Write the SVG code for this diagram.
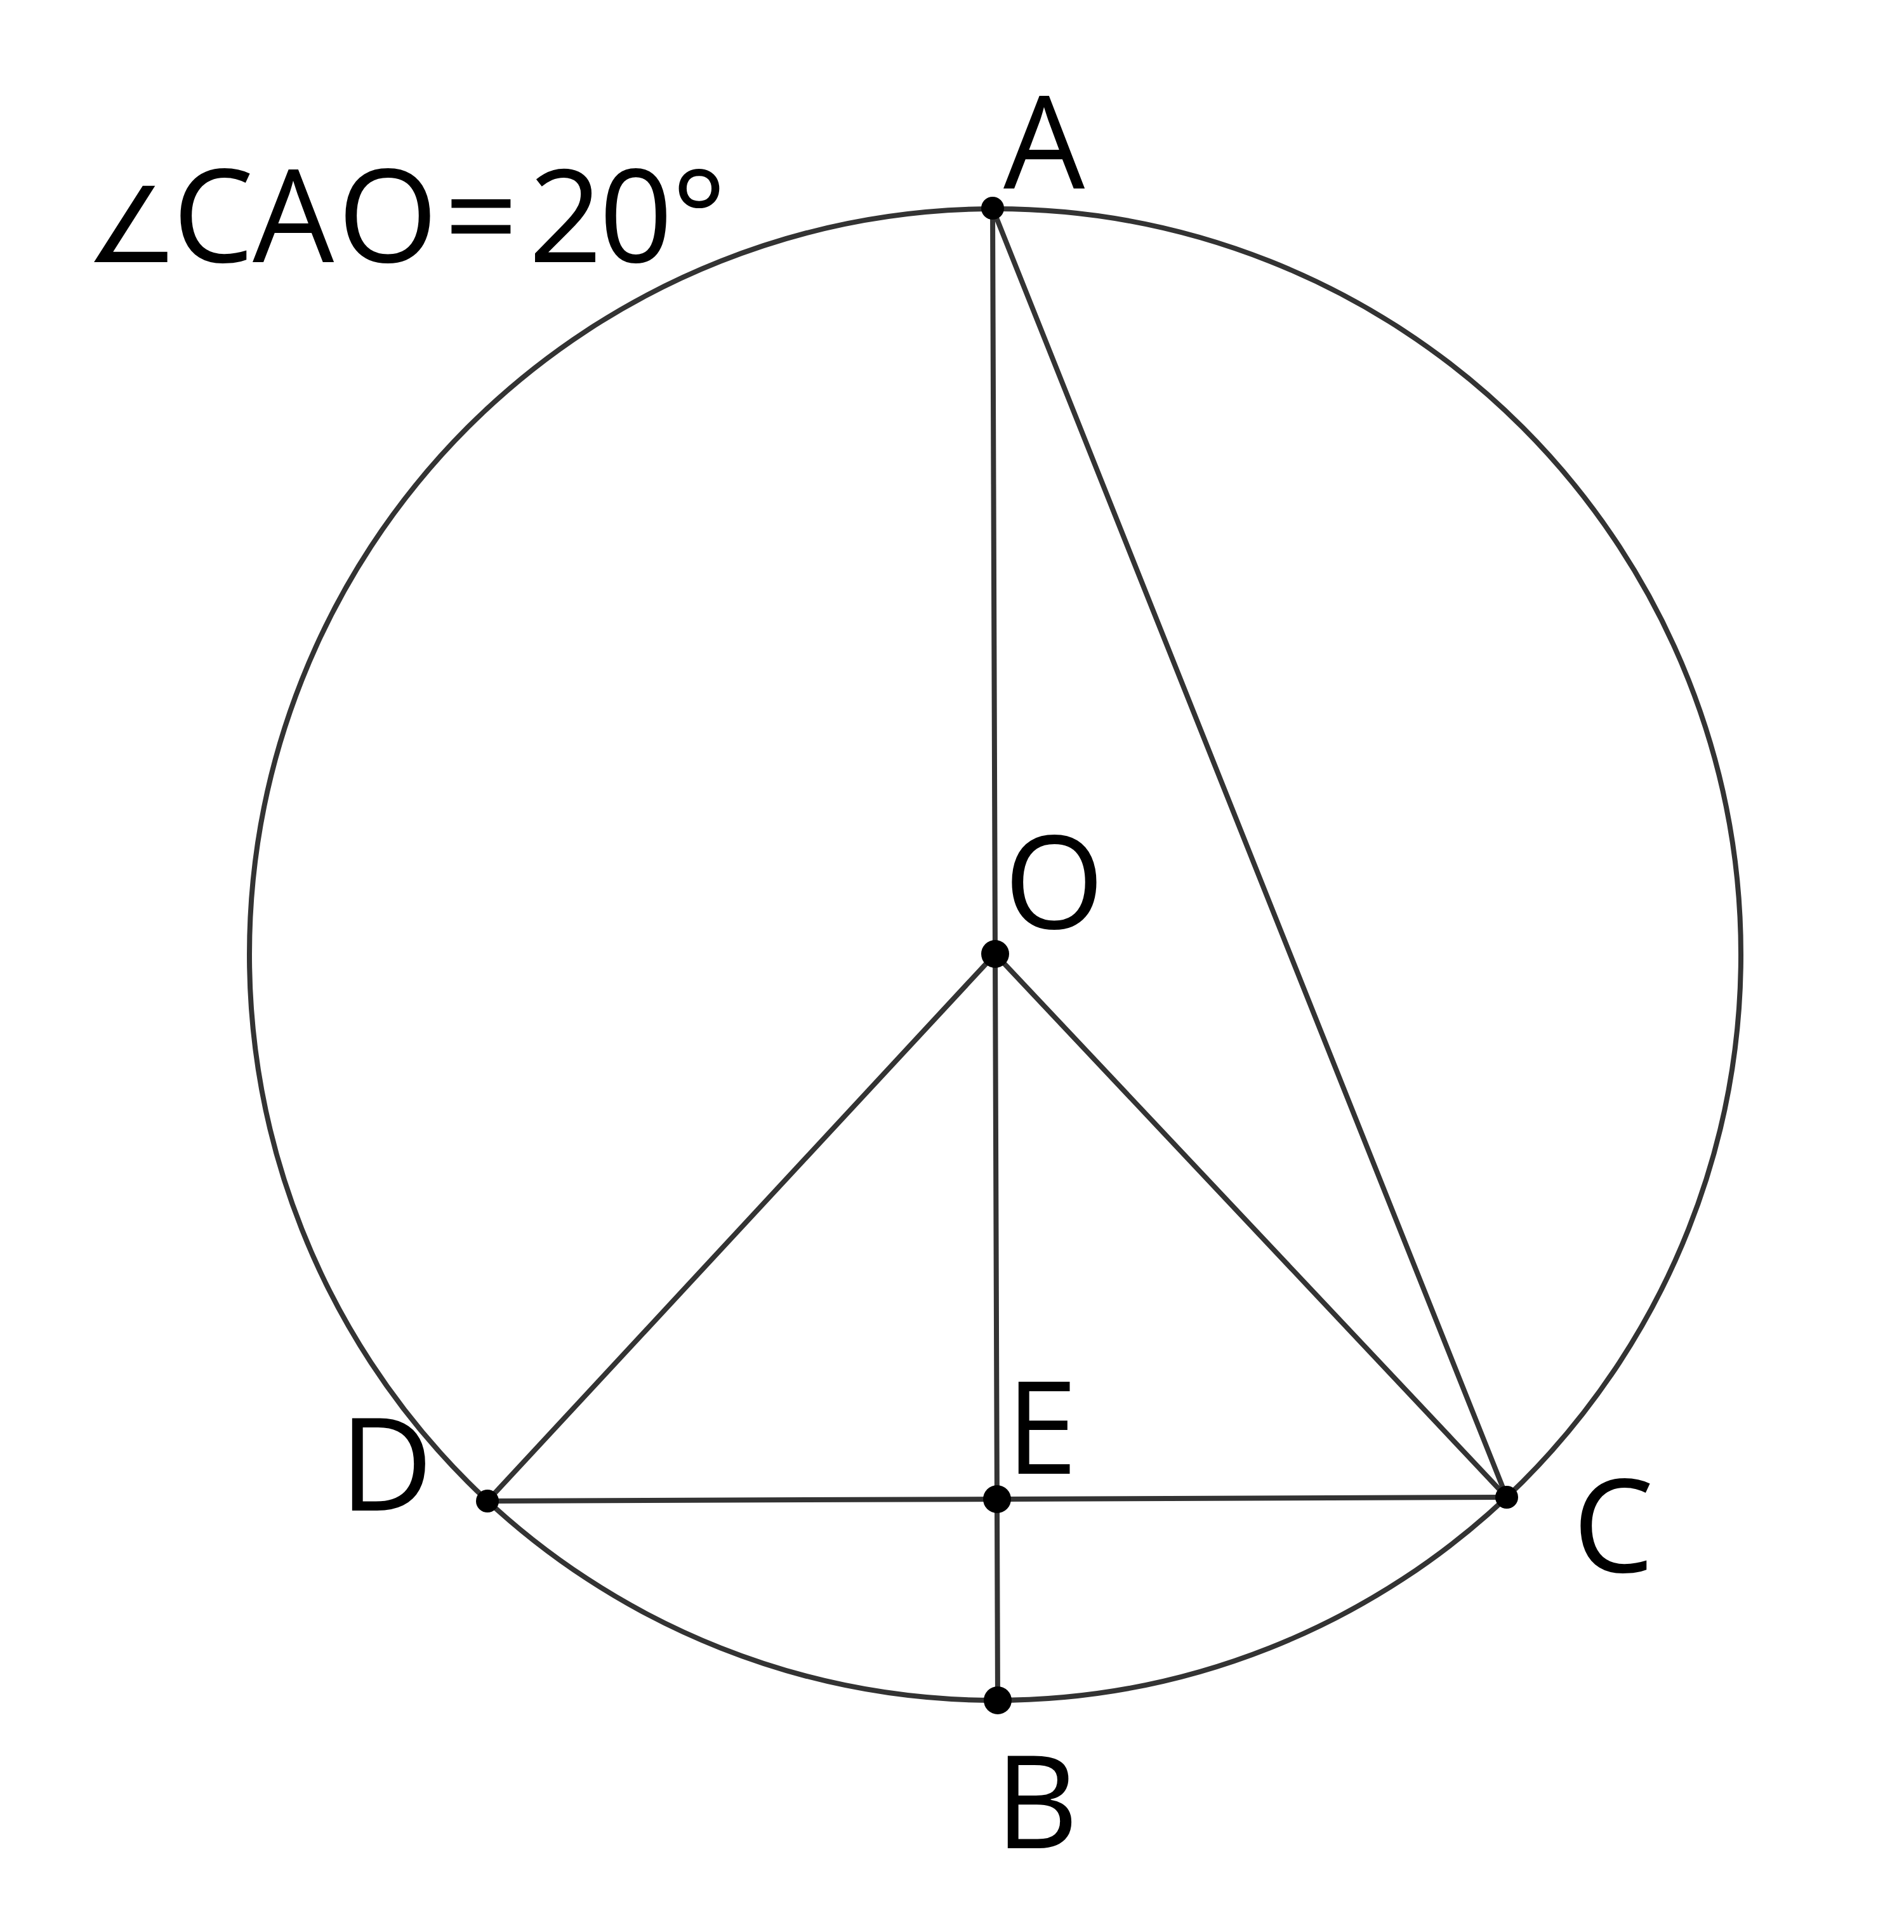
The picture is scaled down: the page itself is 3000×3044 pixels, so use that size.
<svg xmlns="http://www.w3.org/2000/svg" width="3000" height="3044" viewBox="0 0 3000 3044">
<style>
.ln{stroke:#333;stroke-width:8;fill:none;stroke-linecap:round}
.pt{fill:#000}
.lb{font-family:"Open Sans","Noto Sans","DejaVu Sans",sans-serif;font-size:203px;fill:#000}
.ang{font-family:"DejaVu Sans",sans-serif;font-size:165px}
</style>
<rect width="3000" height="3044" fill="#fff"/>
<g id="connectors">
<circle id="circle" class="ln" cx="1568" cy="1504" r="1175"/>
<line class="ln" x1="1564" y1="328" x2="1572" y2="2679"/>
<line class="ln" x1="1564" y1="328" x2="2374" y2="2359"/>
<line class="ln" x1="1568" y1="1503" x2="768" y2="2365"/>
<line class="ln" x1="1568" y1="1503" x2="2374" y2="2359"/>
<line class="ln" x1="768" y1="2365" x2="2374" y2="2359"/>
</g>
<g id="node-A"><circle class="pt" cx="1564" cy="328" r="18"/><text class="lb" x="1581" y="297">A</text></g>
<g id="node-O"><circle class="pt" cx="1568" cy="1503" r="22"/><text class="lb" x="1582" y="1463">O</text></g>
<g id="node-D"><circle class="pt" cx="768" cy="2365" r="18"/><text class="lb" x="535" y="2380">D</text></g>
<g id="node-C"><circle class="pt" cx="2374" cy="2359" r="18"/><text class="lb" x="2478" y="2477">C</text></g>
<g id="node-E"><circle class="pt" cx="1571" cy="2362" r="22"/><text class="lb" x="1585" y="2322">E</text></g>
<g id="node-B"><circle class="pt" cx="1572" cy="2679" r="22"/><text class="lb" x="1568" y="2912">B</text></g>
<g id="title"><text class="lb" y="413"><tspan class="ang" x="134">∠</tspan><tspan x="272 398 532 700 833 944 1058">CAO=20°</tspan></text></g>
</svg>
